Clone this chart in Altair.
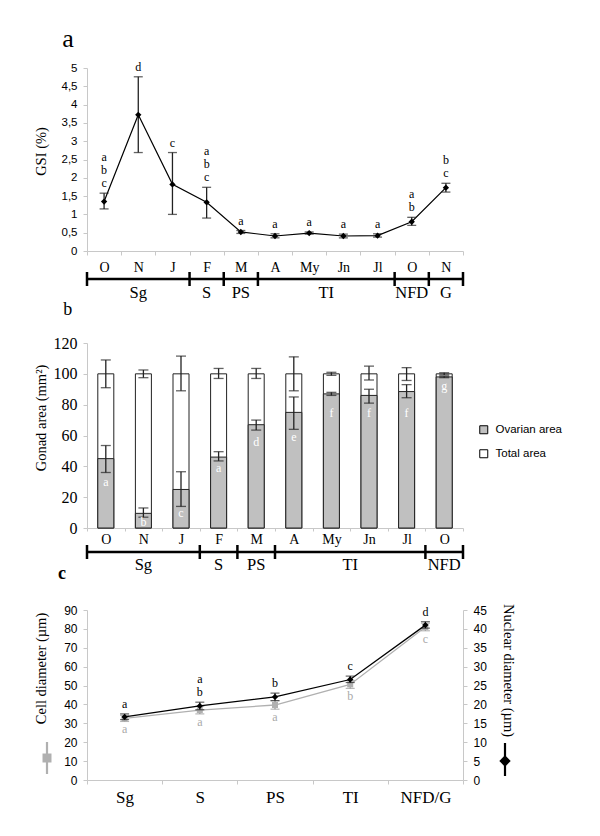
import altair as alt
import pandas as pd

# ---------------- panel a: GSI ----------------
months_a = ["O", "N", "J", "F", "M", "A", "My", "Jn", "Jl", "O", "N"]
gsi = [1.35, 3.72, 1.82, 1.33, 0.52, 0.41, 0.49, 0.41, 0.42, 0.80, 1.73]
gsi_lo = [1.15, 2.69, 1.00, 0.90, 0.48, 0.36, 0.46, 0.36, 0.38, 0.70, 1.61]
gsi_hi = [1.58, 4.76, 2.69, 1.74, 0.56, 0.47, 0.52, 0.46, 0.47, 0.92, 1.85]
gsi_letters = ["a\nb\nc", "d", "c", "a\nb\nc", "a", "a", "a", "a", "a", "a\nb", "b\nc"]
phases_a = ["Sg", "S", "PS", "TI", "NFD", "G"]
phase_counts_a = [3, 1, 1, 4, 1, 1]

# ---------------- panel b: gonad area ----------------
months_b = ["O", "N", "J", "F", "M", "A", "My", "Jn", "Jl", "O"]
total_area = [100, 100, 100, 100, 100, 100, 100, 100, 100, 100]
total_lo = [91.0, 97.5, 89.0, 97.0, 97.0, 89.0, 99.0, 96.0, 95.7, 99.3]
total_hi = [109.0, 102.5, 111.5, 103.5, 103.5, 111.0, 101.0, 105.0, 104.0, 100.7]
ovarian_area = [45.0, 9.5, 25.0, 46.0, 67.0, 75.0, 87.0, 86.0, 88.5, 98.0]
ovarian_lo = [36.0, 7.0, 14.0, 43.5, 63.5, 64.0, 86.0, 81.0, 84.5, 97.5]
ovarian_hi = [53.5, 13.0, 36.5, 49.5, 70.0, 85.0, 88.0, 90.0, 93.0, 98.5]
ovarian_letters = ["a", "b", "c", "a", "d", "e", "f", "f", "f", "g"]
ovarian_letter_at = [30, 4, 9.5, 39, 56, 59, 74.5, 74.5, 74.5, 92]
phases_b = ["Sg", "S", "PS", "TI", "NFD"]
phase_counts_b = [3, 1, 1, 4, 1]
series_names = ["Ovarian area", "Total area"]

# ---------------- panel c: cell / nuclear diameter ----------------
stages = ["Sg", "S", "PS", "TI", "NFD/G"]
cell_diam = [32.6, 37.0, 39.7, 50.6, 81.0]
cell_lo = [31.0, 35.0, 37.5, 48.5, 79.0]
cell_hi = [34.2, 39.0, 42.0, 52.7, 83.0]
cell_letters = ["a", "a", "a", "b", "c"]
nuc_diam = [16.7, 19.6, 22.0, 26.6, 41.0]
nuc_lo = [16.0, 18.6, 21.0, 25.8, 40.2]
nuc_hi = [17.5, 20.6, 23.0, 27.5, 41.9]
nuc_letters = ["a", "a\nb", "b", "c", "d"]

SERIF = "Liberation Serif"
SANS = "Liberation Sans"
AX = "#c8c8c8"
GREY = "#b0b0b0"
LINE_H = 13


def band_x(labels, font_size, label_pad, tick_size=4):
    expr = "[" + ",".join("'%s'" % l for l in labels) + "][datum.value]"
    return alt.X(
        "i:O",
        scale=alt.Scale(type="band", paddingInner=0, paddingOuter=0),
        axis=alt.Axis(title=None, labelExpr=expr, labelAngle=0, tickBand="extent",
                      labelFont=SERIF, labelFontSize=font_size, labelColor="black",
                      domainColor=AX, tickColor=AX, tickSize=tick_size,
                      labelPadding=label_pad, grid=False),
    )


def y_axis(title, values, font, size, tx, ty, label_expr=None, orient="left", fmt=None):
    kw = dict(title=title, values=values, labelFont=font, labelFontSize=size,
              labelColor="black", titleFont=SERIF, titleFontSize=14.5,
              titleFontWeight="normal", titleColor="black", titleX=tx, titleY=ty,
              titleBaseline="middle", titleAlign="center", domainColor=AX,
              tickColor=AX, tickSize=4, labelPadding=6, grid=False, orient=orient)
    if label_expr:
        kw["labelExpr"] = label_expr
    if fmt:
        kw["format"] = fmt
    return alt.Axis(**kw)


def bracket(names, counts, line_y, half, label_y):
    rows, start = [], 0
    for n, c in zip(names, counts):
        rows.append({"phase": n, "start": start, "end": start + c, "mid": start + c / 2})
        start += c
    ph = pd.DataFrame(rows)
    edges = pd.DataFrame({"edge": [0] + [r["end"] for r in rows]})
    xs = alt.Scale(domain=[0, start], nice=False)
    line = alt.Chart(ph).mark_rule(color="black", strokeWidth=2.5).encode(
        x=alt.X("start:Q", scale=xs, axis=None), x2="end:Q", y=alt.value(line_y))
    ticks = alt.Chart(edges).mark_rule(color="black", strokeWidth=2.5).encode(
        x=alt.X("edge:Q", scale=xs, axis=None),
        y=alt.value(line_y - half), y2=alt.value(line_y + half))
    labels = alt.Chart(ph).mark_text(font=SERIF, fontSize=16.5, baseline="alphabetic",
                                     color="black").encode(
        x=alt.X("mid:Q", scale=xs, axis=None), y=alt.value(label_y), text="phase:N")
    return alt.layer(line, ticks, labels)


def panel_letter(t, x, y, size, weight="normal"):
    return alt.Chart(pd.DataFrame({"t": [t]})).mark_text(
        font=SERIF, fontSize=size, fontWeight=weight, align="left",
        baseline="alphabetic", color="black").encode(
        x=alt.value(x), y=alt.value(y), text="t:N")


def letters_above(letters, tops, x, y_scale, y_axis_def, color="black"):
    """Significance letters stacked above the error bar tops, one row per letter."""
    rows = []
    for i, (s, v) in enumerate(zip(letters, tops)):
        parts = s.split("\n")
        for j, p in enumerate(parts):
            rows.append({"i": i, "v": v, "t": p, "k": len(parts) - 1 - j})
    df = pd.DataFrame(rows)
    layers = []
    for k in range(int(df["k"].max()) + 1):
        layers.append(
            alt.Chart(df).transform_filter("datum.k == %d" % k).mark_text(
                font=SERIF, fontSize=12, baseline="bottom", dy=-3 - LINE_H * k,
                color=color).encode(
                x=x, y=alt.Y("v:Q", scale=y_scale, axis=y_axis_def), text="t:N"))
    return layers


# ---------------- panel a ----------------
dfa = pd.DataFrame({"i": list(range(len(months_a))), "gsi": gsi, "lo": gsi_lo,
                    "hi": gsi_hi})
xa = band_x(months_a, 14, 5)
ya_s = alt.Scale(domain=[0, 5], nice=False)
ya_ax = y_axis("GSI (%)", [k * 0.5 for k in range(11)], SANS, 11.5, -46, 83,
               label_expr="replace(datum.label, '.', ',')", fmt="~g")
ba = alt.Chart(dfa)
line_a = ba.mark_line(color="black", strokeWidth=1.2).encode(
    x=xa, y=alt.Y("gsi:Q", scale=ya_s, axis=ya_ax))
err_a = ba.mark_errorbar(ticks=True, size=9, thickness=1.3, color="#222").encode(
    x=xa, y=alt.Y("lo:Q", scale=ya_s, axis=ya_ax), y2="hi:Q")
pts_a = ba.mark_point(shape="diamond", filled=True, size=40, color="black", opacity=1).encode(
    x=xa, y=alt.Y("gsi:Q", scale=ya_s, axis=ya_ax))
txt_a = letters_above(gsi_letters, gsi_hi, xa, ya_s, ya_ax)
panel_a = alt.layer(
    alt.layer(line_a, err_a, pts_a, *txt_a, panel_letter("a", -24.7, -21, 26)),
    bracket(phases_a, phase_counts_a, 211, 7, 230),
).resolve_scale(x="independent").properties(width=376, height=183)

# ---------------- panel b ----------------
# group is 10px taller than the plotting range so one concat spacing fits all panels
dfb = pd.DataFrame({"i": list(range(len(months_b))), "total": total_area,
                    "tlo": total_lo, "thi": total_hi, "ov": ovarian_area,
                    "olo": ovarian_lo, "ohi": ovarian_hi, "lab": ovarian_letters,
                    "labpos": ovarian_letter_at})
xb = band_x(months_b, 14, 1, 3)
yb_s = alt.Scale(domain=[0, 120], nice=False, range=[195, 10])
yb_ax = y_axis("Gonad area (mm²)", list(range(0, 121, 20)), SERIF, 16, -46, 84.5)
col_s = alt.Scale(domain=series_names, range=["#c0c0c0", "#ffffff"])
leg = alt.Legend(title=None, orient="none", legendX=391, legendY=356, symbolType="square",
                 symbolSize=64, symbolStrokeColor="black", symbolStrokeWidth=1,
                 labelFont=SANS, labelFontSize=11.5, labelColor="black", rowPadding=11,
                 labelOffset=6)
bb = alt.Chart(dfb)
tot_bar = bb.transform_calculate(series="'%s'" % series_names[1]).mark_bar(
    size=16, stroke="#222", strokeWidth=1).encode(
    x=xb, y=alt.Y("total:Q", scale=yb_s, axis=yb_ax),
    color=alt.Color("series:N", scale=col_s, legend=leg))
ov_bar = bb.transform_calculate(series="'%s'" % series_names[0]).mark_bar(
    size=16, stroke="#222", strokeWidth=1).encode(
    x=xb, y=alt.Y("ov:Q", scale=yb_s, axis=yb_ax),
    color=alt.Color("series:N", scale=col_s, legend=leg))
err_t = bb.mark_errorbar(ticks=True, size=10, thickness=1.3, color="#222").encode(
    x=xb, y=alt.Y("tlo:Q", scale=yb_s, axis=yb_ax), y2="thi:Q")
err_o = bb.mark_errorbar(ticks=True, size=10, thickness=1.3, color="#222").encode(
    x=xb, y=alt.Y("olo:Q", scale=yb_s, axis=yb_ax), y2="ohi:Q")
txt_b = bb.mark_text(font=SERIF, fontSize=12, color="white", baseline="middle").encode(
    x=xb, y=alt.Y("labpos:Q", scale=yb_s, axis=yb_ax), text="lab:N")
panel_b = alt.layer(
    alt.layer(tot_bar, ov_bar, err_t, err_o, txt_b, panel_letter("b", -23.7, -18, 18)),
    bracket(phases_b, phase_counts_b, 219, 7, 237),
).resolve_scale(x="independent").properties(width=376, height=195)

# ---------------- panel c ----------------
dfc = pd.DataFrame({"i": list(range(len(stages))), "cell": cell_diam, "clo": cell_lo,
                    "chi": cell_hi, "clab": cell_letters, "nuc": nuc_diam,
                    "nlo": nuc_lo, "nhi": nuc_hi})
xc = band_x(stages, 17, 5)
yl_s = alt.Scale(domain=[0, 90], nice=False)
yr_s = alt.Scale(domain=[0, 45], nice=False)
yl_ax = y_axis("Cell diameter (µm)", list(range(0, 91, 10)), SANS, 12, -46, 58)
yr_ax = y_axis("Nuclear diameter (µm)", list(range(0, 46, 5)), SANS, 12, 44, 60,
               orient="right")
bc = alt.Chart(dfc)
one = alt.Chart(pd.DataFrame({"k": [0]}))
left = alt.layer(
    bc.mark_line(color=GREY, strokeWidth=1.3).encode(
        x=xc, y=alt.Y("cell:Q", scale=yl_s, axis=yl_ax)),
    bc.mark_errorbar(ticks=True, size=9, thickness=1.2, color="#999").encode(
        x=xc, y=alt.Y("clo:Q", scale=yl_s, axis=yl_ax), y2="chi:Q"),
    bc.mark_point(shape="square", filled=True, size=36, color=GREY, opacity=1).encode(
        x=xc, y=alt.Y("cell:Q", scale=yl_s, axis=yl_ax)),
    bc.mark_text(font=SERIF, fontSize=12, color="#aaaaaa", baseline="top", dy=3).encode(
        x=xc, y=alt.Y("clo:Q", scale=yl_s, axis=yl_ax), text="clab:N"),
    one.mark_rule(color=GREY, strokeWidth=2.2).encode(
        x=alt.value(-40), y=alt.value(132), y2=alt.value(164)),
    one.mark_point(shape="square", filled=True, size=81, color=GREY, opacity=1).encode(
        x=alt.value(-40), y=alt.value(148)),
    panel_letter("c", -29, -31, 18, "bold"),
)
right = alt.layer(
    bc.mark_line(color="black", strokeWidth=1.3).encode(
        x=xc, y=alt.Y("nuc:Q", scale=yr_s, axis=yr_ax)),
    bc.mark_errorbar(ticks=True, size=9, thickness=1.2, color="#222").encode(
        x=xc, y=alt.Y("nlo:Q", scale=yr_s, axis=yr_ax), y2="nhi:Q"),
    bc.mark_point(shape="diamond", filled=True, size=40, color="black", opacity=1).encode(
        x=xc, y=alt.Y("nuc:Q", scale=yr_s, axis=yr_ax)),
    *letters_above(nuc_letters, nuc_hi, xc, yr_s, yr_ax),
    one.mark_rule(color="black", strokeWidth=2.2).encode(
        x=alt.value(418), y=alt.value(133), y2=alt.value(166)),
    one.mark_point(shape="diamond", filled=True, size=130, color="black", opacity=1).encode(
        x=alt.value(418), y=alt.value(151)),
)
panel_c = alt.layer(left, right).resolve_scale(y="independent").properties(
    width=376, height=170)

chart = alt.vconcat(panel_a, panel_b, panel_c, spacing=82, bounds="flush").properties(
    padding={"left": 24, "top": 18, "right": 5, "bottom": 5}
).configure_view(stroke=None)

chart.save("out.html", embed_options={"renderer": "svg", "actions": False})
